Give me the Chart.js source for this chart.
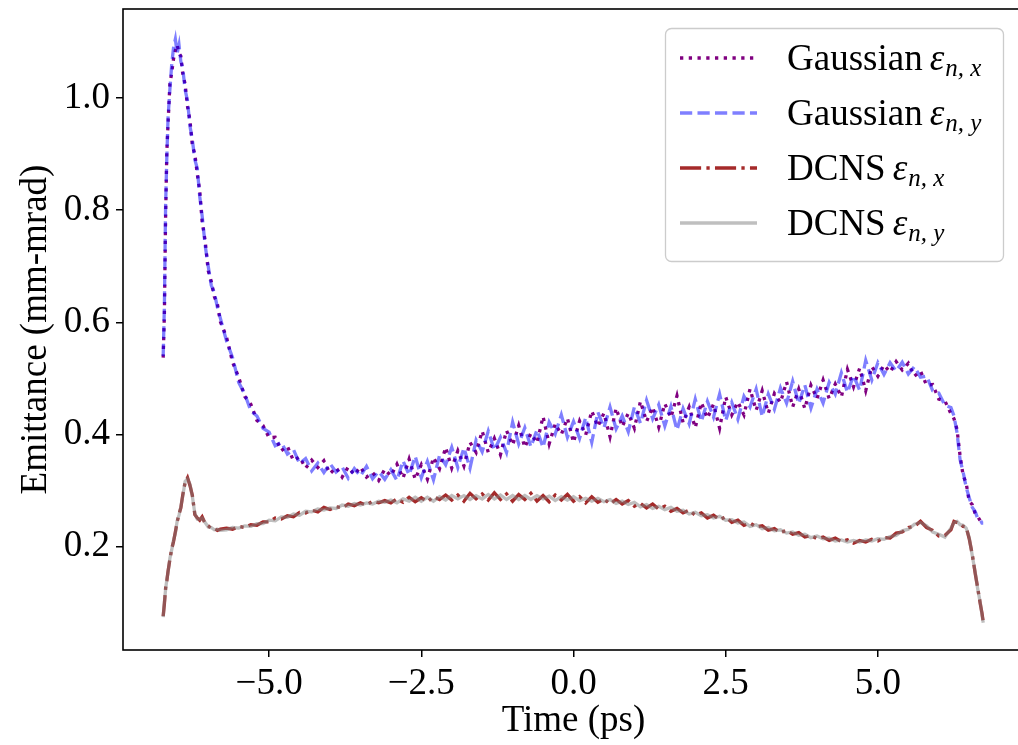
<!DOCTYPE html>
<html><head><meta charset="utf-8">
<script src="https://cdn.jsdelivr.net/npm/chart.js@4.4.1/dist/chart.umd.min.js"></script>
<style>
html,body{margin:0;padding:0;overflow:hidden;background:#fff;width:1018px;height:745px;}
#wrap{position:relative;width:1030px;height:745px;}
</style></head><body>
<div id="wrap"><canvas id="c" width="1030" height="745"></canvas></div>
<script>
// Time (ps)
const time = [-6.74,-6.72,-6.70,-6.68,-6.66,-6.63,-6.60,-6.57,-6.54,-6.51,-6.48,-6.45,-6.42,-6.38,-6.34,-6.30,-6.26,-6.22,-6.18,-6.14,-6.10,-6.05,-6.00,-5.95,-5.90,-5.85,-5.80,
-5.7,-5.6,-5.5,-5.4,-5.3,-5.2,-5.1,-5.0,-4.9,-4.8,-4.7,-4.6,-4.5,-4.4,-4.3,-4.2,-4.1,-4.0,-3.9,-3.8,-3.7,-3.6,-3.5,-3.4,-3.3,-3.2,-3.1,-3.0,
-2.9,-2.8,-2.7,-2.6,-2.5,-2.4,-2.3,-2.2,-2.1,-2.0,-1.9,-1.8,-1.7,-1.6,-1.5,-1.4,-1.3,-1.2,-1.1,-1.0,-0.9,-0.8,-0.7,-0.6,-0.5,-0.4,-0.3,-0.2,-0.1,0.0,
0.1,0.2,0.3,0.4,0.5,0.6,0.7,0.8,0.9,1.0,1.1,1.2,1.3,1.4,1.5,1.6,1.7,1.8,1.9,2.0,2.1,2.2,2.3,2.4,2.5,2.6,2.7,2.8,2.9,3.0,
3.1,3.2,3.3,3.4,3.5,3.6,3.7,3.8,3.9,4.0,4.1,4.2,4.3,4.4,4.5,4.6,4.7,4.8,4.9,5.0,
5.1,5.2,5.3,5.4,5.5,5.6,5.7,5.8,5.9,6.0,6.1,6.2,
6.25,6.30,6.35,6.40,6.45,6.50,6.55,6.60,6.64,6.68,6.71,6.73];

const gaussX = [0.537,0.615,0.79,0.905,0.955,1.025,1.045,1.07,1.085,1.095,1.08,1.075,1.045,1.025,0.985,0.96,0.915,0.9,0.865,0.835,0.78,0.745,0.692,0.673,0.646,0.633,0.601,
0.574,0.529,0.502,0.468,0.454,0.425,0.416,0.394,
0.395,0.371,0.379,0.353,0.360,0.340,0.354,0.341,0.353,0.330,0.341,0.324,0.342,0.328,0.342,0.324,0.332,0.318,0.338,0.326,
0.347,0.322,0.356,0.320,0.346,0.320,0.359,0.339,0.377,0.340,
0.371,0.344,0.386,0.368,0.406,0.368,0.393,0.364,0.407,0.381,
0.416,0.377,0.402,0.385,0.432,0.383,0.419,0.400,0.429,0.386,
0.424,0.399,0.442,0.414,0.438,0.396,0.447,0.414,0.438,0.411,
0.459,0.423,0.449,0.413,0.455,0.430,0.469,0.421,0.449,0.412,
0.457,0.429,0.454,0.411,0.467,0.435,0.458,0.435,0.481,0.443,
0.478,0.438,0.473,0.457,0.494,0.449,0.481,0.446,0.488,0.464,
0.497,0.464,0.490,0.467,0.516,0.485,0.518,0.478,0.521,0.504,
0.524,0.511,0.530,0.515,0.527,0.504,0.513,0.488,0.489,0.463,0.460,0.437,
0.428,0.409,0.362,0.327,0.313,0.281,0.275,0.258,0.254,0.246,0.244,0.240];

const gaussY = [0.540,0.63,0.81,0.895,0.965,1.015,1.06,1.09,1.105,1.08,1.095,1.065,1.055,1.015,0.995,0.95,0.925,0.89,0.875,0.825,0.79,0.737,0.70,0.666,0.653,0.627,0.607,
0.567,0.537,0.493,0.472,0.442,0.433,0.411,0.404,
0.380,0.386,0.365,0.373,0.348,0.357,0.335,0.349,0.332,0.348,0.333,0.342,0.322,0.339,0.326,0.343,0.321,0.334,0.320,0.337,
0.318,0.353,0.328,0.361,0.323,0.352,0.319,0.363,0.346,0.377,
0.341,0.376,0.340,0.390,0.369,0.406,0.372,0.395,0.368,0.422,
0.383,0.412,0.378,0.408,0.377,0.422,0.401,0.435,0.395,0.423,
0.393,0.430,0.386,0.440,0.412,0.449,0.410,0.433,0.405,0.449,
0.420,0.461,0.428,0.453,0.415,0.450,0.408,0.446,0.419,0.463,
0.423,0.459,0.431,0.472,0.425,0.457,0.427,0.468,0.449,0.481,
0.432,0.472,0.445,0.483,0.456,0.495,0.455,0.488,0.447,0.481,
0.456,0.493,0.472,0.510,0.475,0.505,0.479,0.532,0.497,0.528,
0.507,0.528,0.513,0.529,0.508,0.521,0.502,0.504,0.478,0.474,0.452,0.448,
0.433,0.403,0.355,0.333,0.306,0.287,0.270,0.262,0.250,0.248,0.242,0.242];

const dcnsX = [0.076,0.098,0.126,0.139,0.156,0.177,0.196,0.209,0.226,0.244,0.258,0.269,0.291,0.314,0.323,0.309,0.291,0.257,0.251,0.247,0.253,0.241,0.237,0.232,0.232,0.229,0.231,
0.233,0.231,0.236,0.234,0.239,0.238,0.244,0.244,
0.251,0.249,0.255,0.253,0.261,0.260,0.265,0.262,0.270,0.266,0.271,0.269,0.276,0.273,0.278,0.274,0.281,0.278,0.282,0.278,
0.285,0.279,0.288,0.280,0.287,0.280,0.289,0.284,0.292,0.283,
0.292,0.281,0.295,0.285,0.294,0.283,0.296,0.284,0.294,0.281,
0.293,0.284,0.295,0.281,0.291,0.280,0.292,0.283,0.293,0.281,
0.289,0.278,0.289,0.279,0.285,0.276,0.284,0.276,0.282,0.272,
0.277,0.269,0.276,0.267,0.272,0.263,0.268,0.260,0.265,0.256,
0.260,0.251,0.256,0.248,0.253,0.243,0.247,0.238,0.242,0.235,
0.237,0.229,0.232,0.225,0.229,0.222,0.225,0.217,0.220,0.214,
0.217,0.211,0.215,0.209,0.212,0.206,0.211,0.208,0.213,0.210,
0.216,0.215,0.224,0.226,0.234,0.236,0.245,0.234,0.229,0.219,0.220,0.230,
0.245,0.243,0.241,0.236,0.235,0.214,0.186,0.151,0.126,0.099,0.081,0.066];

const dcnsY = [0.074,0.101,0.124,0.141,0.154,0.179,0.194,0.211,0.224,0.246,0.256,0.271,0.289,0.316,0.321,0.311,0.289,0.259,0.249,0.249,0.251,0.243,0.235,0.234,0.230,0.231,0.229,
0.230,0.234,0.233,0.237,0.236,0.241,0.241,0.247,
0.246,0.253,0.252,0.258,0.256,0.263,0.262,0.267,0.265,0.269,0.268,0.274,0.272,0.277,0.274,0.278,0.276,0.281,0.279,0.283,
0.278,0.285,0.281,0.288,0.281,0.288,0.281,0.289,0.283,0.291,
0.285,0.291,0.284,0.291,0.285,0.293,0.285,0.292,0.284,0.291,
0.284,0.291,0.284,0.291,0.285,0.290,0.282,0.289,0.283,0.289,
0.282,0.286,0.281,0.286,0.280,0.284,0.277,0.281,0.275,0.279,
0.271,0.275,0.268,0.272,0.266,0.270,0.263,0.265,0.258,0.261,
0.255,0.257,0.251,0.254,0.247,0.248,0.242,0.244,0.236,0.239,
0.232,0.234,0.228,0.230,0.224,0.226,0.220,0.222,0.216,0.219,
0.214,0.215,0.210,0.212,0.208,0.211,0.208,0.212,0.210,0.214,
0.213,0.218,0.220,0.228,0.231,0.240,0.243,0.237,0.226,0.222,0.217,0.233,
0.243,0.245,0.239,0.238,0.233,0.216,0.184,0.153,0.124,0.101,0.079,0.064];

const xTicks = [-5, -2.5, 0, 2.5, 5];
const yTicks = [0.2, 0.4, 0.6, 0.8, 1.0];
const legendNames = ['Gaussian', 'Gaussian', 'DCNS', 'DCNS'];
const legendSubs = ['n, x', 'n, y', 'n, x', 'n, y'];
const seriesLabels = legendNames.map((n, i) => n + ' \u03B5' + legendSubs[i]);

const SERIF = '"Liberation Serif", "Times New Roman", serif';
const FS = 37;
const LW = 3.3;

const pts = ys => time.map((t, i) => ({x: t, y: ys[i]}));

const framePlugin = {
  id: 'frame',
  afterDatasetsDraw(chart) {
    const {ctx, chartArea: a} = chart;
    ctx.save();
    ctx.strokeStyle = '#000';
    ctx.lineWidth = 1.6;
    ctx.strokeRect(a.left, a.top, a.right - a.left, a.bottom - a.top);
    ctx.restore();
  }
};

const legendPlugin = {
  id: 'mplLegend',
  afterDraw(chart) {
    const ctx = chart.ctx;
    ctx.save();
    const bx = 665.5, by = 28.5, bw = 338, bh = 233;
    ctx.beginPath();
    ctx.roundRect(bx, by, bw, bh, 6);
    ctx.fillStyle = 'rgba(255,255,255,0.8)';
    ctx.fill();
    ctx.strokeStyle = '#cccccc';
    ctx.lineWidth = 1.3;
    ctx.stroke();
    const rows = [58, 113, 168, 223];
    chart.data.datasets.forEach((ds, i) => {
      const y = rows[i];
      ctx.beginPath();
      ctx.setLineDash(ds.borderDash || []);
      ctx.strokeStyle = ds.borderColor;
      ctx.lineWidth = ds.borderWidth;
      ctx.lineCap = 'butt';
      ctx.moveTo(680, y);
      ctx.lineTo(757, y);
      ctx.stroke();
      ctx.setLineDash([]);
      const base = y + 12;
      ctx.fillStyle = '#000';
      ctx.textBaseline = 'alphabetic';
      ctx.textAlign = 'left';
      ctx.font = FS + 'px ' + SERIF;
      let x = 787;
      ctx.fillText(legendNames[i], x, base);
      x += ctx.measureText(legendNames[i]).width + 7;
      ctx.font = 'italic ' + FS + 'px ' + SERIF;
      ctx.fillText('\u03B5', x, base);
      x += ctx.measureText('\u03B5').width + 1;
      ctx.font = 'italic 25px ' + SERIF;
      ctx.fillText(legendSubs[i], x, base + 6);
    });
    ctx.restore();
  }
};

const fmt = v => {
  const s = Number(v).toFixed(1);
  return s.startsWith('-') ? '\u2212' + s.slice(1) : s;
};

new Chart(document.getElementById('c'), {
  type: 'line',
  data: {
    datasets: [
      {label: seriesLabels[0], data: pts(gaussX), borderColor: '#800080', borderWidth: LW, borderDash: [LW, LW * 1.65], order: 4},
      {label: seriesLabels[1], data: pts(gaussY), borderColor: 'rgba(0,0,255,0.5)', borderWidth: LW, borderDash: [LW * 3.7, LW * 1.6], order: 3},
      {label: seriesLabels[2], data: pts(dcnsX), borderColor: '#a52a2a', borderWidth: LW, borderDash: [LW * 6.4, LW * 1.6, LW, LW * 1.6], order: 2},
      {label: seriesLabels[3], data: pts(dcnsY), borderColor: 'rgba(128,128,128,0.5)', borderWidth: LW, order: 1}
    ]
  },
  options: {
    responsive: false,
    animation: false,
    devicePixelRatio: 1,
    layout: {padding: {top: 9, right: 6, left: 0, bottom: 0}, autoPadding: false},
    elements: {point: {radius: 0}, line: {tension: 0, fill: false, borderCapStyle: 'butt'}},
    plugins: {legend: {display: false}, tooltip: {enabled: false}},
    scales: {
      x: {
        type: 'linear', min: -7.40, max: 7.40,
        afterBuildTicks: s => { s.ticks = xTicks.map(v => ({value: v})); },
        afterFit: s => { s.height = 95; s.paddingLeft = 0; s.paddingRight = 0; },
        border: {display: false},
        grid: {display: true, drawOnChartArea: false, drawTicks: true, tickLength: 7, color: '#000', lineWidth: 1.5},
        ticks: {color: '#000', font: {family: SERIF, size: FS}, padding: 5, maxRotation: 0, callback: v => fmt(v)},
        title: {display: true, text: 'Time (ps)', color: '#000', font: {family: SERIF, size: FS}, padding: {top: 0, bottom: 2}}
      },
      y: {
        type: 'linear', min: 0.0155, max: 1.159,
        afterBuildTicks: s => { s.ticks = yTicks.map(v => ({value: v})); },
        afterFit: s => { s.width = 123; s.paddingTop = 0; s.paddingBottom = 0; },
        border: {display: false},
        grid: {display: true, drawOnChartArea: false, drawTicks: true, tickLength: 7, color: '#000', lineWidth: 1.5},
        ticks: {color: '#000', font: {family: SERIF, size: FS}, padding: 6, callback: v => fmt(v)},
        title: {display: true, text: 'Emittance (mm-mrad)', color: '#000', font: {family: SERIF, size: FS}, padding: {top: 14, bottom: 0}}
      }
    }
  },
  plugins: [framePlugin, legendPlugin]
});
</script>
</body></html>
